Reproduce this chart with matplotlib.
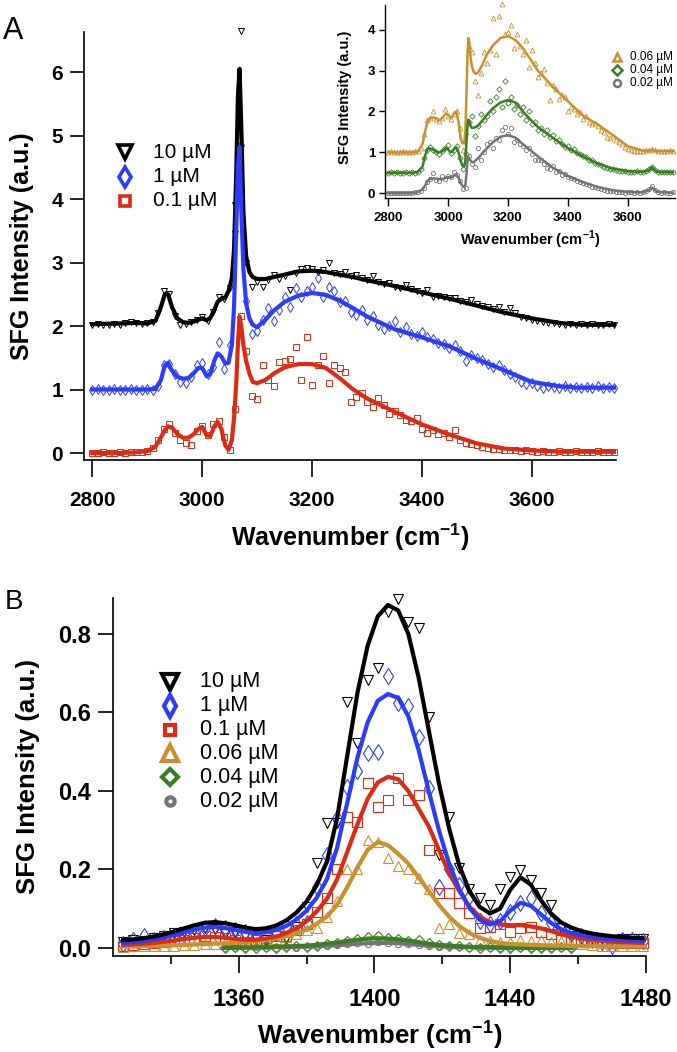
import numpy as np
import matplotlib
matplotlib.use("Agg")
import matplotlib.pyplot as plt
from matplotlib.lines import Line2D

plt.rcParams["font.family"] = ["Liberation Sans", "DejaVu Sans"]
plt.rcParams["mathtext.fontset"] = "custom"
plt.rcParams["mathtext.rm"] = "Liberation Sans"
plt.rcParams["mathtext.bf"] = "Liberation Sans:bold"

# colours
BLACK = "#000000"
BLUE = "#2b3cff"
RED = "#dd2a12"
GOLD = "#c8912e"
GREEN = "#3b7d22"
GRAY = "#747474"

# ---------------- Panel A (C-H / O-H region) ----------------
labels_A = ["10 µM", "1 µM", "0.1 µM"]
offsets_A = [2, 1, 0]
wn_pts_A = np.arange(2800, 3751, 10)

black_pts_A = [
    0.02, 0.03, 0.01, 0.02, 0.03, 0.02, 0.04, 0.07, 0.05, 0.03,
    0.04, 0.06, 0.20, 0.55, 0.50, 0.15, 0.02, 0.03, 0.06, 0.10,
    0.14, 0.08, 0.22, 0.45, 0.42, 0.60, 1.90, 4.65, 1.00, 0.62,
    0.70, 0.62, 0.72, 0.80, 0.74, 0.78, 0.57, 0.84, 0.90, 0.92,
    0.90, 0.85, 0.88, 1.00, 0.84, 0.82, 0.85, 0.78, 0.80, 0.76,
    0.72, 0.78, 0.70, 0.66, 0.68, 0.62, 0.60, 0.64, 0.58, 0.55,
    0.52, 0.56, 0.46, 0.48, 0.45, 0.44, 0.44, 0.40, 0.38, 0.41,
    0.34, 0.32, 0.30, 0.27, 0.30, 0.22, 0.28, 0.20, 0.14, 0.12,
    0.10, 0.08, 0.07, 0.05, 0.04, 0.03, 0.02, 0.03, 0.02, 0.03,
    0.02, 0.03, 0.02, 0.01, 0.03, 0.02]
blue_pts_A = [
    0.00, 0.01, 0.00, 0.00, 0.01, 0.00, 0.00, 0.01, 0.00, 0.00,
    0.01, 0.00, 0.05, 0.38, 0.40, 0.25, 0.12, 0.10, 0.20, 0.38,
    0.42, 0.25, 0.35, 0.75, 0.32, 0.70, 2.50, 3.85, 1.40, 0.88,
    0.92, 1.10, 1.28, 1.08, 1.25, 1.45, 1.30, 1.60, 1.45, 1.55,
    1.62, 1.75, 1.45, 1.62, 1.55, 1.38, 1.40, 1.22, 1.18, 1.25,
    1.10, 1.15, 1.02, 0.95, 1.00, 1.08, 0.90, 0.98, 0.88, 0.84,
    0.90, 0.82, 0.80, 0.74, 0.72, 0.66, 0.70, 0.60, 0.45, 0.55,
    0.50, 0.46, 0.40, 0.35, 0.38, 0.30, 0.25, 0.20, 0.12, 0.08,
    0.10, 0.05, 0.03, 0.06, 0.04, 0.03, 0.05, 0.03, 0.04, 0.02,
    0.04, 0.03, 0.05, 0.03, 0.04, 0.03]
red_pts_A = [
    0.00, 0.00, 0.01, 0.00, 0.00, 0.01, 0.00, 0.01, 0.02, 0.02,
    0.03, 0.08, 0.20, 0.38, 0.45, 0.32, 0.20, 0.15, 0.13, 0.35,
    0.42, 0.28, 0.45, 0.50, 0.25, 0.04, 0.70, 2.15, 1.60, 0.90,
    0.85, 1.38, 1.15, 1.05, 1.43, 1.45, 1.48, 1.67, 1.15, 1.82,
    1.07, 1.38, 1.52, 1.10, 1.38, 1.34, 1.28, 0.80, 0.88, 0.95,
    0.80, 0.72, 0.87, 0.75, 0.62, 0.66, 0.60, 0.52, 0.50, 0.55,
    0.38, 0.31, 0.36, 0.30, 0.32, 0.25, 0.36, 0.20, 0.15, 0.14,
    0.12, 0.10, 0.08, 0.06, 0.07, 0.05, 0.05, 0.04, 0.03, 0.04,
    0.03, 0.02, 0.03, 0.02, 0.02, 0.03, 0.02, 0.02, 0.03, 0.02,
    0.02, 0.02, 0.03, 0.02, 0.02, 0.02]

wn_fit_A = [
    2800, 2850, 2880, 2900, 2915, 2925, 2932, 2938, 2945, 2955,
    2965, 2975, 2985, 2993, 3000, 3008, 3015, 3022, 3028, 3035,
    3042, 3048, 3054, 3058, 3062, 3065, 3068, 3071, 3075, 3080,
    3086, 3092, 3100, 3115, 3130, 3150, 3175, 3200, 3225, 3250,
    3275, 3300, 3350, 3400, 3450, 3500, 3550, 3600, 3650, 3670,
    3680, 3690, 3700, 3750]
black_fit_A = [
    0.03, 0.04, 0.05, 0.04, 0.08, 0.30, 0.50, 0.50, 0.30, 0.12,
    0.06, 0.05, 0.07, 0.10, 0.12, 0.09, 0.13, 0.25, 0.38, 0.43,
    0.45, 0.55, 0.75, 1.20, 2.40, 3.60, 4.05, 3.20, 1.80, 1.10,
    0.85, 0.77, 0.74, 0.74, 0.77, 0.81, 0.86, 0.87, 0.85, 0.81,
    0.77, 0.72, 0.63, 0.53, 0.43, 0.32, 0.21, 0.12, 0.05, 0.03,
    0.03, 0.02, 0.02, 0.02]
blue_fit_A = [
    0.00, 0.00, 0.00, 0.00, 0.01, 0.15, 0.38, 0.42, 0.30, 0.20,
    0.17, 0.18, 0.26, 0.34, 0.34, 0.21, 0.25, 0.45, 0.57, 0.52,
    0.41, 0.42, 0.70, 1.30, 2.50, 3.50, 3.82, 2.90, 1.90, 1.35,
    1.12, 1.02, 0.98, 1.10, 1.24, 1.38, 1.48, 1.52, 1.49, 1.40,
    1.28, 1.15, 0.95, 0.82, 0.68, 0.48, 0.30, 0.12, 0.05, 0.04,
    0.03, 0.03, 0.03, 0.03]
red_fit_A = [
    0.00, 0.00, 0.01, 0.03, 0.10, 0.25, 0.36, 0.42, 0.40, 0.30,
    0.24, 0.24, 0.30, 0.38, 0.41, 0.28, 0.27, 0.42, 0.49, 0.38,
    0.12, 0.05, 0.20, 0.55, 1.10, 1.70, 2.15, 2.00, 1.70, 1.45,
    1.25, 1.12, 1.10, 1.15, 1.25, 1.35, 1.40, 1.40, 1.34, 1.18,
    1.00, 0.86, 0.65, 0.45, 0.29, 0.15, 0.07, 0.04, 0.02, 0.02,
    0.02, 0.02, 0.02, 0.02]

# ---------------- Inset (low concentrations) ----------------
labels_in = ["0.06 µM", "0.04 µM", "0.02 µM"]
offsets_in = [1.0, 0.5, 0.0]
gold_pts_in = [
    0.00, 0.02, 0.00, 0.01, 0.00, 0.02, 0.00, 0.01, 0.00, 0.02,
    0.03, 0.10, 0.45, 0.78, 0.85, 1.00, 0.82, 0.76, 0.85, 1.05,
    0.90, 0.82, 0.95, 1.02, 0.60, 0.05, 0.50, 2.60, 2.45, 1.75,
    1.40, 1.95, 2.45, 2.20, 2.50, 3.30, 2.40, 3.35, 3.64, 2.90,
    2.95, 3.12, 2.55, 2.90, 2.60, 2.40, 2.75, 2.10, 2.50, 2.20,
    1.85, 1.95, 2.05, 1.70, 1.28, 1.65, 1.55, 1.30, 1.40, 1.35,
    1.02, 1.10, 1.05, 0.95, 0.98, 0.82, 0.88, 0.75, 0.70, 0.72,
    0.65, 0.55, 0.50, 0.38, 0.35, 0.40, 0.30, 0.25, 0.20, 0.12,
    0.08, 0.05, 0.03, 0.04, 0.02, 0.03, 0.05, 0.06, 0.08, 0.05,
    0.03, 0.03, 0.04, 0.03, 0.05, 0.04]
green_pts_in = [
    0.00, 0.01, 0.00, 0.01, 0.00, 0.00, 0.01, 0.00, 0.01, 0.00,
    0.02, 0.08, 0.35, 0.55, 0.62, 0.55, 0.50, 0.45, 0.52, 0.60,
    0.68, 0.48, 0.55, 0.65, 0.35, 0.10, 0.45, 1.25, 1.40, 0.90,
    1.15, 1.45, 1.30, 1.40, 1.75, 1.50, 1.85, 2.05, 1.60, 2.25,
    1.70, 1.85, 1.55, 1.65, 1.45, 1.60, 1.30, 1.50, 1.20, 1.25,
    1.05, 1.10, 0.95, 1.05, 0.88, 0.92, 0.78, 0.80, 0.70, 0.62,
    0.65, 0.55, 0.58, 0.48, 0.45, 0.40, 0.38, 0.32, 0.30, 0.25,
    0.22, 0.20, 0.15, 0.12, 0.10, 0.09, 0.06, 0.05, 0.04, 0.03,
    0.02, 0.02, 0.01, 0.03, 0.02, 0.01, 0.04, 0.08, 0.15, 0.06,
    0.02, 0.01, 0.02, 0.01, 0.02, 0.01]
gray_pts_in = [
    0.00, 0.00, 0.01, 0.00, 0.00, 0.01, 0.00, 0.00, 0.01, 0.02,
    0.03, 0.06, 0.12, 0.28, 0.35, 0.50, 0.32, 0.30, 0.42, 0.35,
    0.42, 0.40, 0.52, 0.44, 0.30, 0.10, 0.12, 0.90, 0.72, 0.65,
    1.10, 0.80, 1.00, 1.20, 1.25, 1.10, 1.35, 1.30, 1.55, 1.62,
    1.45, 1.60, 1.25, 1.30, 1.20, 1.15, 1.05, 1.10, 0.95, 0.80,
    0.82, 0.80, 0.72, 0.62, 0.60, 0.66, 0.52, 0.55, 0.45, 0.48,
    0.40, 0.38, 0.35, 0.30, 0.27, 0.25, 0.22, 0.20, 0.15, 0.16,
    0.13, 0.10, 0.08, 0.06, 0.05, 0.05, 0.03, 0.02, 0.03, 0.01,
    0.02, 0.02, 0.01, 0.02, 0.01, 0.03, 0.05, 0.10, 0.18, 0.08,
    0.02, 0.01, 0.02, 0.01, 0.01, 0.02]
gold_fit_in = [
    0.00, 0.00, 0.00, 0.02, 0.20, 0.55, 0.75, 0.82, 0.85, 0.85,
    0.80, 0.80, 0.88, 0.95, 0.93, 0.85, 0.88, 0.98, 1.00, 0.75,
    0.35, 0.22, 0.22, 0.50, 1.50, 2.40, 2.80, 2.70, 2.35, 2.10,
    1.97, 1.92, 1.95, 2.15, 2.40, 2.62, 2.80, 2.85, 2.75, 2.55,
    2.28, 2.00, 1.60, 1.25, 0.90, 0.68, 0.42, 0.15, 0.04, 0.04,
    0.06, 0.04, 0.03, 0.03]
green_fit_in = [
    0.00, 0.00, 0.00, 0.02, 0.15, 0.45, 0.58, 0.60, 0.58, 0.55,
    0.50, 0.50, 0.55, 0.60, 0.58, 0.50, 0.52, 0.60, 0.62, 0.50,
    0.30, 0.17, 0.15, 0.30, 0.80, 1.15, 1.30, 1.25, 1.15, 1.10,
    1.10, 1.12, 1.15, 1.28, 1.42, 1.58, 1.72, 1.78, 1.72, 1.50,
    1.30, 1.12, 0.85, 0.60, 0.40, 0.22, 0.10, 0.04, 0.02, 0.06,
    0.14, 0.06, 0.02, 0.01]
gray_fit_in = [
    0.00, 0.00, 0.00, 0.03, 0.09, 0.20, 0.30, 0.34, 0.36, 0.36,
    0.35, 0.34, 0.35, 0.38, 0.39, 0.38, 0.40, 0.45, 0.45, 0.38,
    0.25, 0.18, 0.15, 0.20, 0.50, 0.78, 0.88, 0.86, 0.80, 0.76,
    0.76, 0.80, 0.85, 0.98, 1.10, 1.25, 1.38, 1.42, 1.36, 1.20,
    1.05, 0.90, 0.62, 0.42, 0.27, 0.15, 0.07, 0.03, 0.02, 0.07,
    0.14, 0.07, 0.03, 0.01]

# ---------------- Panel B (1330-1480 region) ----------------
labels_B = ["10 µM", "1 µM", "0.1 µM", "0.06 µM", "0.04 µM", "0.02 µM"]
wn_B = np.arange(1326, 1480, 3)
nan = np.nan

black_fit_B = [
    0.020, 0.022, 0.025, 0.029, 0.035, 0.042, 0.050, 0.058, 0.064, 0.066,
    0.063, 0.058, 0.052, 0.048, 0.050, 0.057, 0.070, 0.090, 0.118, 0.160,
    0.220, 0.330, 0.490, 0.650, 0.770, 0.845, 0.874, 0.860, 0.800, 0.690,
    0.555, 0.420, 0.305, 0.210, 0.145, 0.105, 0.088, 0.100, 0.148, 0.180,
    0.162, 0.122, 0.088, 0.065, 0.052, 0.043, 0.037, 0.033, 0.030, 0.028,
    0.026, 0.025]
blue_fit_B = [
    0.013, 0.015, 0.018, 0.022, 0.027, 0.033, 0.040, 0.047, 0.052, 0.054,
    0.051, 0.046, 0.041, 0.038, 0.040, 0.046, 0.056, 0.072, 0.095, 0.128,
    0.175, 0.255, 0.370, 0.485, 0.575, 0.630, 0.647, 0.637, 0.590, 0.505,
    0.400, 0.300, 0.215, 0.150, 0.102, 0.072, 0.060, 0.068, 0.095, 0.115,
    0.108, 0.086, 0.064, 0.048, 0.038, 0.032, 0.027, 0.024, 0.022, 0.020,
    0.019, 0.018]
red_fit_B = [
    0.008, 0.009, 0.011, 0.013, 0.016, 0.019, 0.023, 0.026, 0.028, 0.028,
    0.026, 0.023, 0.021, 0.021, 0.024, 0.029, 0.038, 0.050, 0.068, 0.093,
    0.125, 0.175, 0.245, 0.315, 0.380, 0.422, 0.436, 0.430, 0.400, 0.355,
    0.310, 0.250, 0.190, 0.145, 0.105, 0.080, 0.066, 0.060, 0.058, 0.058,
    0.055, 0.050, 0.043, 0.035, 0.029, 0.024, 0.020, 0.018, 0.016, 0.015,
    0.014, 0.013]
gold_fit_B = [
    0.004, 0.004, 0.005, 0.005, 0.006, 0.007, 0.008, 0.009, 0.010, 0.011,
    0.012, 0.013, 0.015, 0.017, 0.020, 0.024, 0.030, 0.037, 0.047, 0.062,
    0.080, 0.110, 0.155, 0.205, 0.250, 0.270, 0.262, 0.240, 0.215, 0.180,
    0.145, 0.110, 0.080, 0.056, 0.038, 0.026, 0.018, 0.013, 0.010, 0.009,
    0.008, 0.007, 0.006, 0.006, 0.005, 0.005, 0.005, 0.004, 0.004, 0.004,
    0.004, 0.004]
green_fit_B = [
    nan, nan, nan, nan, nan, nan, nan, nan, nan, nan,
    0.001, 0.001, 0.001, 0.002, 0.002, 0.003, 0.004, 0.005, 0.006, 0.008,
    0.011, 0.014, 0.018, 0.021, 0.024, 0.025, 0.024, 0.022, 0.019, 0.015,
    0.011, 0.008, 0.006, 0.004, 0.003, 0.002, 0.002, 0.001, 0.001, 0.001,
    0.001, 0.001, 0.001, 0.001, 0.001, nan, nan, nan, nan, nan,
    nan, nan]
gray_fit_B = [
    nan, nan, nan, nan, nan, nan, nan, nan, nan, nan,
    0.000, 0.000, 0.001, 0.001, 0.001, 0.002, 0.002, 0.003, 0.003, 0.004,
    0.006, 0.007, 0.009, 0.011, 0.012, 0.013, 0.013, 0.012, 0.010, 0.008,
    0.006, 0.004, 0.003, 0.002, 0.002, 0.001, 0.001, 0.001, 0.000, 0.000,
    0.000, 0.000, 0.000, 0.000, 0.000, nan, nan, nan, nan, nan,
    nan, nan]

black_pts_B = [
    0.015, 0.020, 0.018, 0.025, 0.030, 0.038, 0.040, 0.045, 0.050, 0.048,
    0.035, 0.040, 0.030, 0.025, 0.020, 0.030, 0.025, 0.054, 0.105, 0.217,
    0.318, 0.318, 0.627, 0.522, 0.683, 0.713, 0.856, 0.889, 0.830, 0.815,
    0.589, 0.237, 0.334, 0.204, 0.150, 0.127, 0.110, 0.150, 0.181, 0.199,
    0.173, 0.140, 0.110, 0.050, 0.030, 0.025, 0.022, 0.024, 0.020, 0.022,
    0.024, 0.023]
blue_pts_B = [
    0.010, 0.020, 0.030, 0.020, 0.025, 0.030, 0.035, 0.040, 0.050, 0.055,
    0.050, 0.045, 0.040, 0.030, 0.035, 0.040, 0.055, 0.060, 0.064, 0.155,
    0.237, 0.330, 0.410, 0.450, 0.497, 0.500, 0.693, 0.624, 0.617, 0.538,
    0.408, 0.155, 0.200, 0.160, 0.130, 0.070, 0.060, 0.070, 0.092, 0.115,
    0.127, 0.090, 0.064, 0.050, 0.035, 0.030, 0.020, 0.015, 0.005, 0.020,
    0.020, 0.018]
red_pts_B = [
    0.005, 0.008, 0.010, 0.012, 0.015, 0.018, 0.020, 0.025, 0.030, 0.028,
    0.025, 0.020, 0.015, 0.020, 0.025, 0.030, 0.030, 0.045, 0.060, 0.092,
    0.127, 0.200, 0.334, 0.320, 0.420, 0.360, 0.377, 0.433, 0.377, 0.390,
    0.250, 0.140, 0.140, 0.115, 0.090, 0.050, 0.054, 0.060, 0.040, 0.050,
    0.054, 0.040, 0.035, 0.020, 0.020, 0.015, 0.018, 0.014, 0.012, 0.013,
    0.012, 0.012]
gold_pts_B = [
    0.003, 0.004, 0.005, 0.004, 0.006, 0.006, 0.008, 0.008, 0.010, 0.010,
    0.012, 0.012, 0.014, 0.016, 0.018, 0.022, 0.028, 0.035, 0.046, 0.050,
    0.079, 0.120, 0.200, 0.200, 0.275, 0.270, 0.230, 0.210, 0.200, 0.178,
    0.150, 0.050, 0.060, 0.038, 0.035, 0.020, 0.018, 0.016, 0.016, 0.020,
    0.018, 0.020, 0.016, 0.018, 0.012, 0.010, 0.008, 0.006, 0.005, 0.005,
    0.004, 0.004]
green_pts_B = [
    nan, nan, nan, nan, nan, nan, nan, nan, nan, nan,
    0.000, 0.002, 0.000, 0.001, 0.003, 0.000, 0.002, 0.004, 0.003, 0.006,
    0.010, 0.012, 0.018, 0.022, 0.028, 0.030, 0.026, 0.022, 0.018, 0.020,
    0.012, 0.008, 0.006, 0.004, 0.003, 0.001, 0.002, 0.000, 0.001, 0.002,
    0.000, 0.001, 0.000, 0.002, 0.001, nan, nan, nan, nan, nan,
    nan, nan]
gray_pts_B = [
    nan, nan, nan, nan, nan, nan, nan, nan, nan, nan,
    0.000, 0.001, 0.000, 0.002, 0.001, 0.000, 0.002, 0.001, 0.003, 0.004,
    0.005, 0.008, 0.010, 0.012, 0.011, 0.015, 0.013, 0.010, 0.009, 0.007,
    0.005, 0.003, 0.004, 0.002, 0.001, 0.002, 0.000, 0.001, 0.001, 0.000,
    0.001, 0.000, 0.001, 0.000, 0.001, nan, nan, nan, nan, nan,
    nan, nan]

# marker styles: (marker, colour, size in data, size in key)
sty_A = [("v", BLACK, 5.0, 10), ("d", BLUE, 5.5, 10), ("s", RED, 4.3, 7)]
sty_in = [("^", GOLD, 3.5, 6), ("D", GREEN, 2.8, 5), ("o", GRAY, 3.0, 5)]
sty_B = [("v", BLACK, 7.5, 11), ("d", BLUE, 8.5, 11), ("s", RED, 6.5, 7),
         ("^", GOLD, 7.5, 11), ("D", GREEN, 5.5, 8), ("o", GRAY, 4.5, 6)]

W, H = 677, 1052
fig = plt.figure(figsize=(W / 100, H / 100), dpi=100)


def px_axes(x0, y0, x1, y1):
    # axes from pixel box (top-left origin)
    return fig.add_axes([x0 / W, 1 - y1 / H, (x1 - x0) / W, (y1 - y0) / H])


def igor_style(ax, xticks, yticks, xfmt, yfmt, size, xlen, ylen, xpad, ypad, lw):
    for s in ("top", "right"):
        ax.spines[s].set_visible(False)
    for s in ("left", "bottom"):
        ax.spines[s].set_linewidth(lw)
    ax.patch.set_alpha(0)
    ax.set_xticks(xticks, [xfmt.format(t) for t in xticks])
    ax.set_yticks(yticks, [yfmt.format(t) for t in yticks])
    ax.tick_params(axis="x", direction="out", length=xlen, width=lw, pad=xpad, labelsize=size)
    ax.tick_params(axis="y", direction="out", length=ylen, width=lw, pad=ypad, labelsize=size)
    plt.setp(ax.get_xticklabels() + ax.get_yticklabels(), fontweight="bold")


def draw_key(entries, styles, xm, xt, y0, dy, fsize, mew):
    for i, (lab, (m, c, _, ks)) in enumerate(zip(entries, styles)):
        y = 1 - (y0 + i * dy) / H
        fig.add_artist(Line2D([xm / W], [y], transform=fig.transFigure, marker=m,
                              ms=ks, mew=mew, mfc="white", mec=c, ls="none"))
        fig.text(xt / W, y, lab, fontsize=fsize, va="center", ha="left")


XLAB = "Wavenumber (cm$^{\\mathbf{-1}}$)"

# ---- Panel A main ----
axA = px_axes(84, 32, 616, 460)
for pts, off, (m, c, ms, _) in zip([black_pts_A, blue_pts_A, red_pts_A], offsets_A, sty_A):
    axA.plot(wn_pts_A, np.array(pts) + off, ls="none", marker=m, ms=ms, mfc="none",
             mec=c, mew=0.7, zorder=2, clip_on=False)
for fit, off, (m, c, ms, _) in zip([black_fit_A, blue_fit_A, red_fit_A], offsets_A, sty_A):
    axA.plot(wn_fit_A, np.array(fit) + off, color=c, lw=3, zorder=3,
             solid_joinstyle="round")
axA.set_xlim(2785, 3753)
axA.set_ylim(-0.11, 6.63)
igor_style(axA, [2800, 3000, 3200, 3400, 3600], range(7), "{}", "{}", 15, 12, 10, 10, 5, 1.2)
axA.set_xlabel(XLAB, fontsize=18, fontweight="bold", va="center")
axA.xaxis.set_label_coords(0.5, -(537 - 460) / 428)
axA.set_ylabel("SFG Intensity (a.u.)", fontsize=18, fontweight="bold", va="center")
axA.yaxis.set_label_coords((22 - 84) / 532, 0.5)
draw_key(labels_A, sty_A, 125, 153, 152, 24.5, 15, 2.6)

# ---- Inset ----
axI = px_axes(385, 5, 675, 198)
for pts, off, (m, c, ms, _) in zip([gold_pts_in, green_pts_in, gray_pts_in], offsets_in, sty_in):
    axI.plot(wn_pts_A, np.array(pts) + off, ls="none", marker=m, ms=ms, mfc="none",
             mec=c, mew=0.6, zorder=2, clip_on=False)
for fit, off, (m, c, ms, _) in zip([gold_fit_in, green_fit_in, gray_fit_in], offsets_in, sty_in):
    axI.plot(wn_fit_A, np.array(fit) + off, color=c, lw=1.8, zorder=3)
axI.set_xlim(2790, 3757)
axI.set_ylim(-0.12, 4.61)
igor_style(axI, [2800, 3000, 3200, 3400, 3600], range(5), "{}", "{}", 9.5, 6, 4, 4, 3, 1.0)
axI.set_xlabel(XLAB, fontsize=10.5, fontweight="bold", va="center")
axI.xaxis.set_label_coords(0.5, -(240 - 198) / 193)
axI.set_ylabel("SFG Intensity (a.u.)", fontsize=10.5, fontweight="bold", va="center")
axI.yaxis.set_label_coords((345 - 385) / 290, 0.52)
draw_key(labels_in, sty_in, 617, 630, 57, 13, 8.5, 1.8)

# ---- Panel B ----
axB = px_axes(113, 598, 646, 956)
pts_B = [black_pts_B, blue_pts_B, red_pts_B, gold_pts_B, green_pts_B, gray_pts_B]
fits_B = [black_fit_B, blue_fit_B, red_fit_B, gold_fit_B, green_fit_B, gray_fit_B]
for pts, (m, c, ms, _) in zip(pts_B, sty_B):
    axB.plot(wn_B, pts, ls="none", marker=m, ms=ms, mfc="none", mec=c, mew=0.8,
             zorder=2, clip_on=False)
for k in [5, 4, 3, 2, 1, 0]:
    axB.plot(wn_B, fits_B[k], color=sty_B[k][1], lw=3, zorder=3)
axB.set_xlim(1323, 1479.7)
axB.set_ylim(-0.0204, 0.8917)
igor_style(axB, [1360, 1400, 1440, 1480], [0.0, 0.2, 0.4, 0.6, 0.8], "{}", "{:.1f}",
           17, 12, 11, 11, 5, 1.2)
axB.set_xticks([1340, 1380, 1420, 1460], minor=True)
axB.tick_params(axis="x", which="minor", direction="out", length=6, width=1.2)
axB.set_xlabel(XLAB, fontsize=18.5, fontweight="bold", va="center")
axB.xaxis.set_label_coords(0.5, -(1035 - 956) / 358)
axB.set_ylabel("SFG Intensity (a.u.)", fontsize=18.5, fontweight="bold", va="center")
axB.yaxis.set_label_coords((28 - 113) / 533, 0.5)
draw_key(labels_B, sty_B, 170, 200, 682, 23.8, 15.5, 3)

fig.text(3 / W, 1 - 31 / H, "A", fontsize=22, ha="left", va="center")
fig.text(5 / W, 1 - 602 / H, "B", fontsize=20, ha="left", va="center")

fig.savefig("out.png", dpi=100)
